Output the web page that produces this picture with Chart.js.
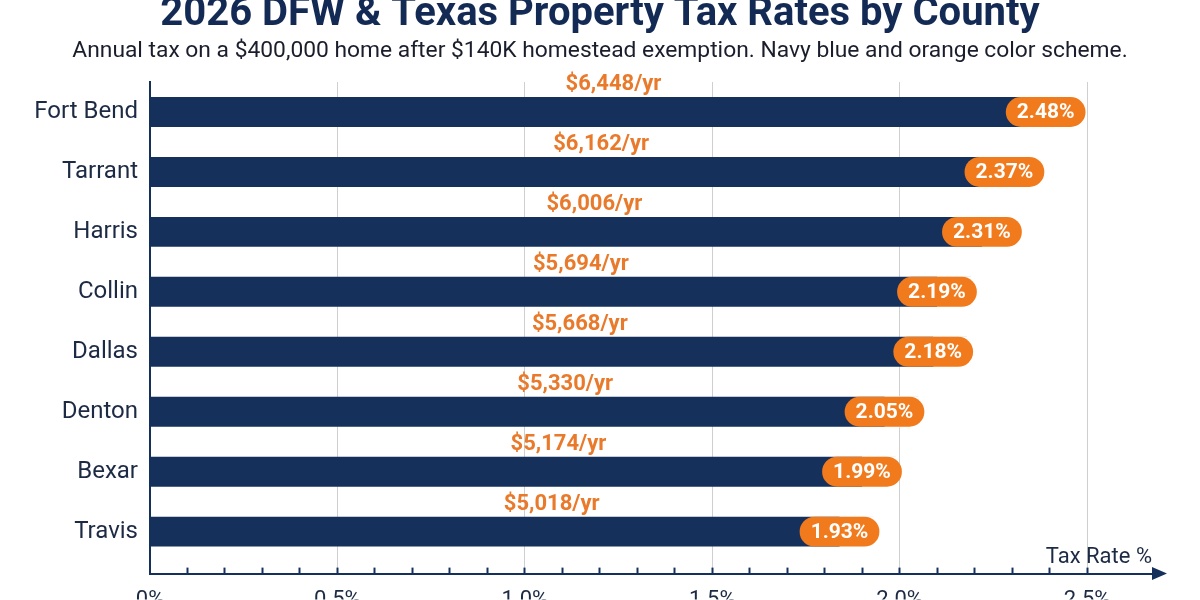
<!DOCTYPE html>
<html>
<head>
<meta charset="utf-8">
<script src="https://cdn.jsdelivr.net/npm/chart.js@4.4.1/dist/chart.umd.min.js"></script>
<style>
  html, body { margin: 0; padding: 0; background: #ffffff; }
  #wrap { width: 1200px; height: 600px; position: relative; }
</style>
</head>
<body>
<div id="wrap"><canvas id="c" width="1200" height="600"></canvas></div>
<script>
const titleText = '2026 DFW & Texas Property Tax Rates by County';
const subtitleText = 'Annual tax on a $400,000 home after $140K homestead exemption. Navy blue and orange color scheme.';
const counties = ['Fort Bend', 'Tarrant', 'Harris', 'Collin', 'Dallas', 'Denton', 'Bexar', 'Travis'];
const taxRates = [2.48, 2.37, 2.31, 2.19, 2.18, 2.05, 1.99, 1.93];
const annualTax = [6448, 6162, 6006, 5694, 5668, 5330, 5174, 5018];
const majorTickValues = [0, 0.5, 1.0, 1.5, 2.0, 2.5];
const majorTickLabels = ['0%', '0.5%', '1.0%', '1.5%', '2.0%', '2.5%'];
const axisTitle = 'Tax Rate %';

const NAVY = '#15305b';
const ORANGE = '#f07a1c';
const ORANGE_TEXT = '#e97a2b';
const TEXT_DARK = '#1d2a44';
const FONT = 'Roboto, "Noto Sans", sans-serif';

function isMajor(v) { return majorTickValues.some(m => Math.abs(m - v) < 1e-6); }
function majorLabel(v) {
  const i = majorTickValues.findIndex(m => Math.abs(m - v) < 1e-6);
  return i >= 0 ? majorTickLabels[i] : '';
}

const points = taxRates.map((r, i) => ({ x: r, y: i }));

const decor = {
  id: 'decor',
  afterDraw(chart) {
    const ctx = chart.ctx;
    const xs = chart.scales.x;
    ctx.save();
    ctx.fillStyle = '#132a55';
    ctx.font = 'bold 40px ' + FONT;
    ctx.textAlign = 'center';
    ctx.textBaseline = 'alphabetic';
    ctx.fillText(titleText, 600, 25);
    ctx.fillStyle = '#1a1d2b';
    ctx.font = '22.8px ' + FONT;
    ctx.fillText(subtitleText, 600, 57);
    const ay = xs.top;
    const ax = xs.right;
    ctx.fillStyle = NAVY;
    ctx.beginPath();
    ctx.moveTo(ax + 5, ay);
    ctx.lineTo(ax - 10, ay - 6.5);
    ctx.lineTo(ax - 10, ay + 6.5);
    ctx.closePath();
    ctx.fill();
    ctx.fillStyle = TEXT_DARK;
    ctx.font = '22px ' + FONT;
    ctx.textAlign = 'right';
    ctx.textBaseline = 'middle';
    ctx.fillText(axisTitle, 1152, 557);
    ctx.restore();
  },
  afterDatasetsDraw(chart) {
    const ctx = chart.ctx;
    const xs = chart.scales.x;
    const ref = xs.getPixelForValue(2.5);
    const meta = chart.getDatasetMeta(0);
    ctx.save();
    meta.data.forEach((bar, i) => {
      const h = bar.height;
      ctx.fillStyle = ORANGE_TEXT;
      ctx.font = 'bold 22px ' + FONT;
      ctx.textAlign = 'center';
      ctx.textBaseline = 'middle';
      const amt = '$' + annualTax[i].toLocaleString('en-US') + '/yr';
      const cx = (bar.base + bar.x) / 2 + 0.2 * (ref - bar.x) - 3;
      ctx.fillText(amt, cx, bar.y - 27);
      const txt = taxRates[i].toFixed(2) + '%';
      ctx.font = 'bold 21px ' + FONT;
      const tw = ctx.measureText(txt).width;
      const bw = tw + 22;
      const right = bar.x + 6;
      const left = right - bw;
      const top = bar.y - h / 2;
      ctx.fillStyle = '#ffffff';
      ctx.fillRect(left + bw / 2, top - 0.5, bar.x - (left + bw / 2) + 1, h + 1);
      ctx.fillStyle = ORANGE;
      ctx.beginPath();
      ctx.roundRect(left, top, bw, h, h / 2);
      ctx.fill();
      ctx.fillStyle = '#ffffff';
      ctx.fillText(txt, left + bw / 2, bar.y + 1);
    });
    ctx.restore();
  }
};

new Chart(document.getElementById('c'), {
  type: 'bar',
  data: {
    labels: counties,
    datasets: [{
      data: points,
      backgroundColor: NAVY,
      borderWidth: 0,
      categoryPercentage: 1,
      barPercentage: 0.5
    }]
  },
  options: {
    indexAxis: 'y',
    responsive: false,
    animation: false,
    layout: { padding: { top: 82, right: 38, left: 0, bottom: 0 } },
    plugins: { legend: { display: false }, tooltip: { enabled: false }, title: { display: false } },
    scales: {
      x: {
        type: 'linear',
        min: 0,
        max: 2.7,
        afterFit(scale) { scale.height = 26; },
        border: { display: true, color: NAVY, width: 2 },
        grid: {
          drawOnChartArea: true,
          drawTicks: true,
          tickLength: -6,
          lineWidth: 1,
          color: ctx => (ctx.tick && isMajor(ctx.tick.value) && ctx.tick.value > 0) ? '#cfcfcf' : 'rgba(0,0,0,0)',
          tickColor: ctx => (ctx.tick && ctx.tick.value > 0 && ctx.tick.value <= 2.5 + 1e-6) ? NAVY : 'rgba(0,0,0,0)',
          tickWidth: 2
        },
        ticks: {
          stepSize: 0.1,
          includeBounds: false,
          autoSkip: false,
          maxRotation: 0,
          padding: 20,
          color: TEXT_DARK,
          font: { family: FONT, size: 22 },
          callback: v => majorLabel(v)
        }
      },
      y: {
        type: 'linear',
        reverse: true,
        offset: false,
        min: -0.5,
        max: 7.7,
        afterFit(scale) { scale.width = 150; },
        border: { display: true, color: NAVY, width: 2 },
        grid: { display: false, drawTicks: false, offset: false },
        ticks: {
          stepSize: 1,
          includeBounds: false,
          autoSkip: false,
          padding: 12,
          color: TEXT_DARK,
          font: { family: FONT, size: 24 },
          callback: v => (Number.isInteger(v) && counties[v] !== undefined) ? counties[v] : ''
        }
      }
    }
  },
  plugins: [decor]
});
</script>
</body>
</html>
